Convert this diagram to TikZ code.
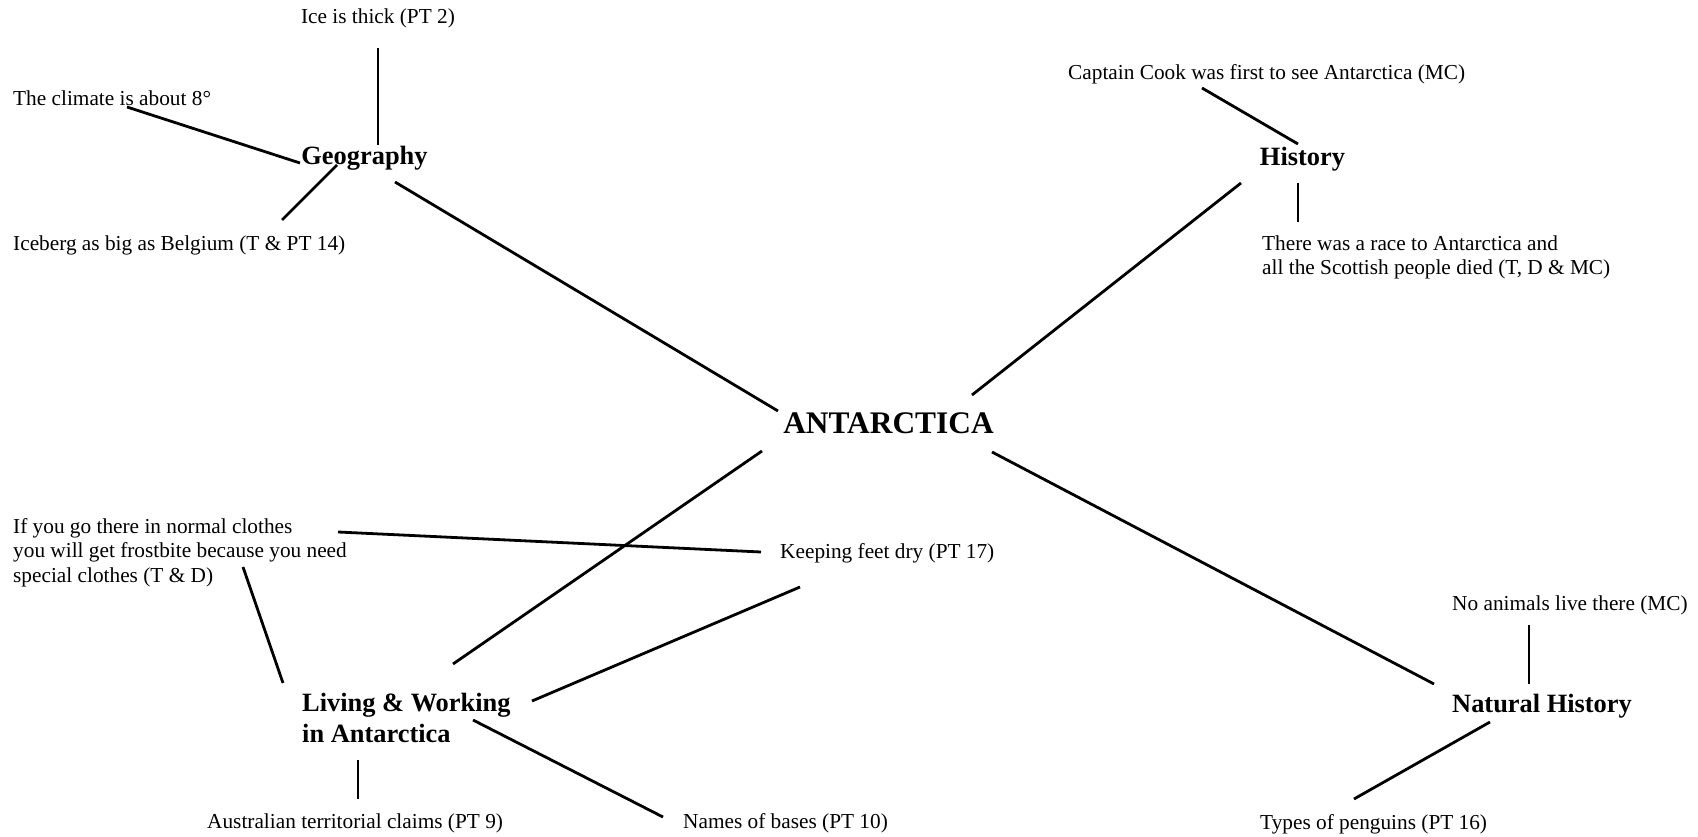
\documentclass[tikz,border=0pt]{standalone}
\usepackage{fontspec}
\setmainfont{Liberation Serif}
\usetikzlibrary{calc}
\newcommand{\mapstrut}{\rule{0pt}{0.75em}}
\begin{document}
\begin{tikzpicture}[x=1pt,y=-1pt,
  leaf/.style={inner sep=0pt, font=\fontsize{21.3}{24.5}\selectfont},
  topic/.style={inner sep=0pt, font=\bfseries\fontsize{26.4}{31}\selectfont},
  hub/.style={inner sep=0pt, font=\bfseries\fontsize{31.4}{36}\selectfont},
  link/.style={line width=2.8pt}]
\fill[white] (0,0) rectangle (1698,837);
\useasboundingbox (0,0) rectangle (1698,837);

% centre
\node[hub, anchor=base] (ant) at (888.5,433) {ANTARCTICA};

% topics
\node[topic, anchor=base] (geo) at (364.5,165) {Geography};
\node[topic, anchor=base] (hist) at (1302.5,166) {History};
\node[topic, anchor=base west] (nat) at (1452,712) {Natural History};
\node[topic, anchor=north west, align=left] (liv) at (302,691) {\mapstrut Living \& Working\\in Antarctica};

% facts
\node[leaf, anchor=base] (ice) at (378,24) {Ice is thick (PT 2)};
\node[leaf, anchor=base west] (clim) at (13,106) {The climate is about 8°};
\node[leaf, anchor=base west] (ibg) at (13,251) {Iceberg as big as Belgium (T \& PT 14)};
\node[leaf, anchor=base west] (cook) at (1068,80) {Captain Cook was first to see Antarctica (MC)};
\node[leaf, anchor=north west, align=left] (race) at (1262,234) {\mapstrut There was a race to Antarctica and\\all the Scottish people died (T, D \& MC)};
\node[leaf, anchor=north west, align=left] (ifgo) at (13,517) {\mapstrut If you go there in normal clothes\\you will get frostbite because you need\\special clothes (T \& D)};
\node[leaf, anchor=base west] (keep) at (780,558) {Keeping feet dry (PT 17)};
\node[leaf, anchor=base west] (aus) at (207,828) {Australian territorial claims (PT 9)};
\node[leaf, anchor=base west] (bases) at (683,828) {Names of bases (PT 10)};
\node[leaf, anchor=base west] (noan) at (1452,610) {No animals live there (MC)};
\node[leaf, anchor=base west] (peng) at (1260,829) {Types of penguins (PT 16)};

% connectors
\draw[link] ($(ice.base)+(0,24)$) -- ($(geo.base)+(13.5,-20)$);
\draw[link] ($(clim.base west)+(114,1)$) -- ($(geo.base)+(-64.5,-2)$);
\draw[link] ($(ibg.base west)+(269,-31)$) -- ($(geo.base)+(-27.5,0)$);
\draw[link] ($(geo.base)+(30.5,17)$) -- ($(ant.base)+(-110.5,-22)$);
\draw[link] ($(cook.base west)+(134,8)$) -- ($(hist.base)+(-4.5,-22)$);
\draw[link] ($(hist.base)+(-4.5,17)$) -- ($(race.north west)+(36,-12)$);
\draw[link] ($(hist.base)+(-61.5,17)$) -- ($(ant.base)+(83.5,-38)$);
\draw[link] ($(ant.base)+(103.5,19)$) -- ($(nat.base west)+(-18,-28)$);
\draw[link] ($(noan.base west)+(77,15)$) -- ($(nat.base west)+(77,-28)$);
\draw[link] ($(nat.base west)+(38,10)$) -- ($(peng.base west)+(94,-30)$);
\draw[link] ($(ant.base)+(-126.5,18)$) -- ($(liv.north west)+(151,-27)$);
\draw[link] ($(ifgo.north west)+(325,15)$) -- ($(keep.base west)+(-19,-6)$);
\draw[link] ($(keep.base west)+(20,29)$) -- ($(liv.north west)+(230,10)$);
\draw[link] ($(ifgo.north west)+(230,50)$) -- ($(liv.north west)+(-19,-8)$);
\draw[link] ($(liv.north west)+(56,69)$) -- ($(aus.base west)+(151,-29)$);
\draw[link] ($(liv.north west)+(171,29)$) -- ($(bases.base west)+(-20,-11)$);
\end{tikzpicture}
\end{document}
